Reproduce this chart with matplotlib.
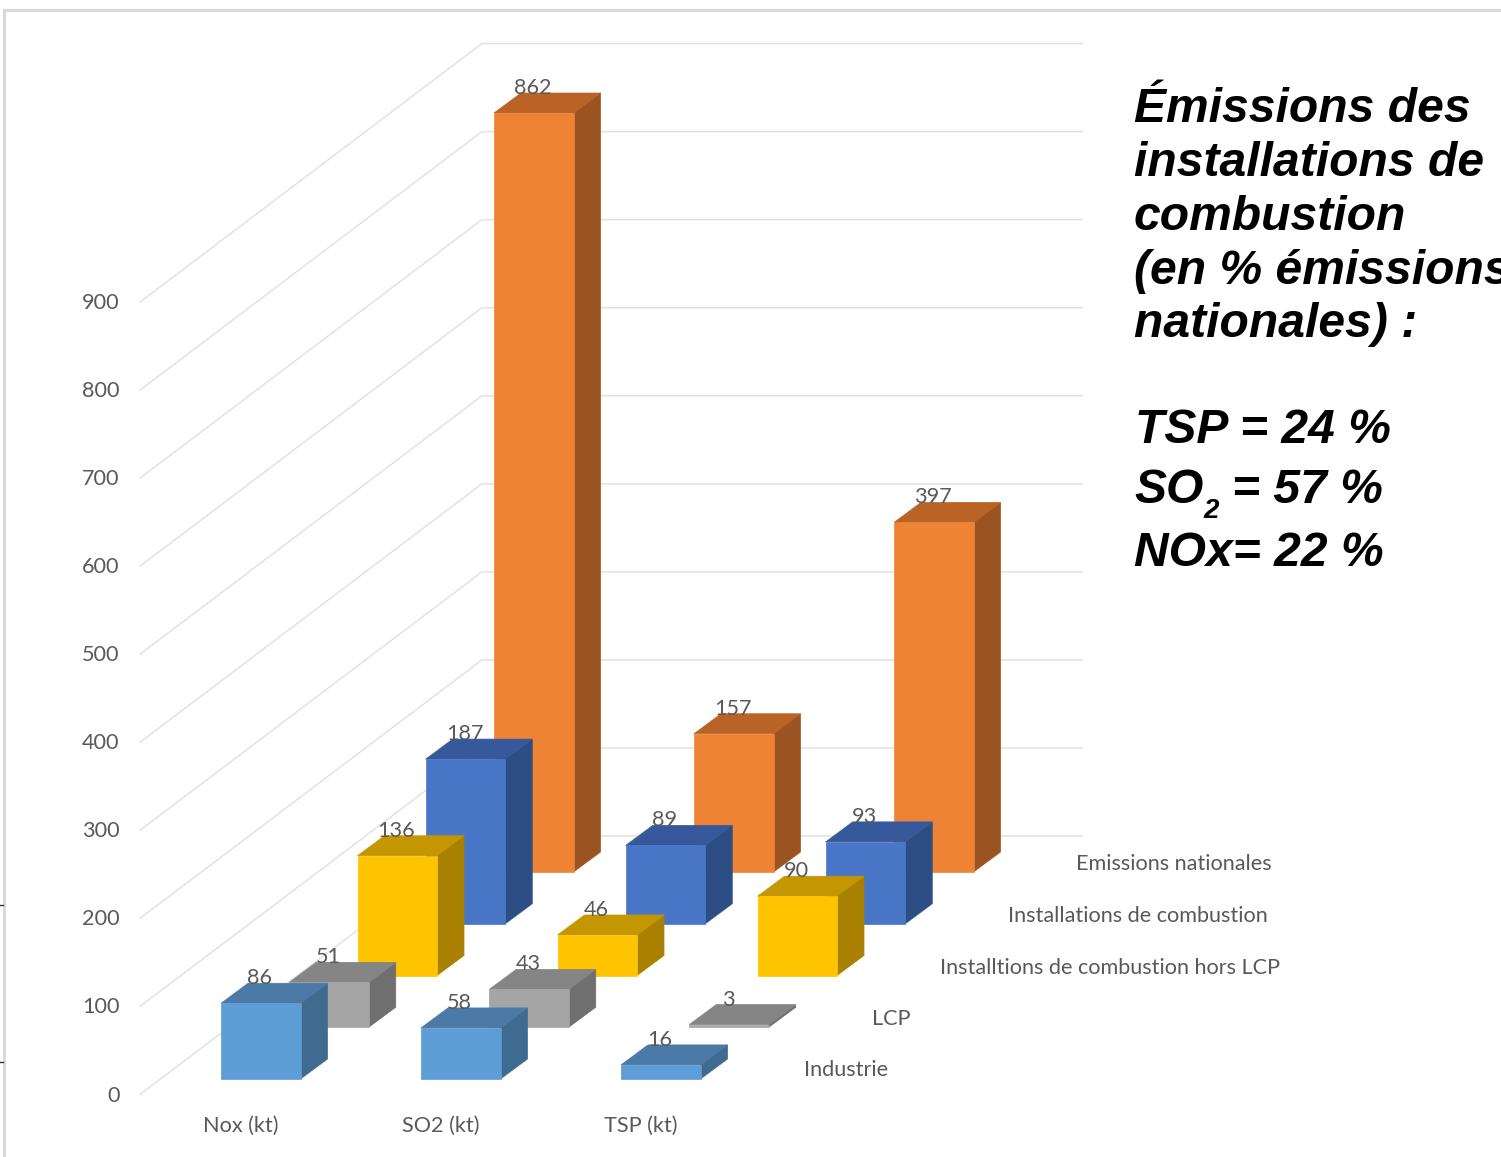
import matplotlib
matplotlib.use("Agg")
import matplotlib.pyplot as plt
from matplotlib.patches import Polygon

categories = ["Nox (kt)", "SO2 (kt)", "TSP (kt)"]
series_names = ["Industrie", "LCP", "Installtions de combustion hors LCP",
                "Installations de combustion", "Emissions nationales"]

industrie = [86, 58, 16]
lcp = [51, 43, 3]
hors_lcp = [136, 46, 90]
combustion = [187, 89, 93]
nationales = [862, 157, 397]

axis_ticks = [0, 100, 200, 300, 400, 500, 600, 700, 800, 900]

# front, side, top
industrie_colors = ("#5f9dd7", "#3f6b91", "#4a7aa5")
lcp_colors = ("#a5a5a5", "#6f6f6f", "#858585")
hors_lcp_colors = ("#ffc400", "#a98000", "#c49600")
combustion_colors = ("#4976c7", "#2d4e85", "#37599b")
nationales_colors = ("#ee8335", "#9b5421", "#ba6327")

WIDTH = 1501
HEIGHT = 1157
PX_PER_UNIT = 0.8805

BAR_WIDTH = 79.5
BAR_DX = 27
BAR_DY = 20
CATEGORY_STEP = 200
SERIES_STEP_X = 68.25
SERIES_STEP_Y = 51.75
FIRST_BAR_X = 221
FIRST_BAR_Y = 1079

GRID_COLOR = "#e2e2e2"
TEXT_COLOR = "#595959"
LABEL_FONT = "Lato"
LABEL_SIZE = 15.6
NOTE_FONT = "Liberation Sans"
NOTE_SIZE = 34.6


def bar_position(category, series):
    x = FIRST_BAR_X + category * CATEGORY_STEP + series * SERIES_STEP_X
    y = FIRST_BAR_Y - series * SERIES_STEP_Y
    return x, y


def draw_bar(ax, category, series, value, colors):
    x, bottom = bar_position(category, series)
    top = bottom - value * PX_PER_UNIT
    right = x + BAR_WIDTH
    front_color, side_color, top_color = colors

    side = [(right, bottom), (right + BAR_DX, bottom - BAR_DY),
            (right + BAR_DX, top - BAR_DY), (right, top)]
    lid = [(x, top), (right, top), (right + BAR_DX, top - BAR_DY), (x + BAR_DX, top - BAR_DY)]
    front = [(x, bottom), (right, bottom), (right, top), (x, top)]

    ax.add_patch(Polygon(side, closed=True, facecolor=side_color, edgecolor=side_color, linewidth=0.5))
    ax.add_patch(Polygon(lid, closed=True, facecolor=top_color, edgecolor=top_color, linewidth=0.5))
    ax.add_patch(Polygon(front, closed=True, facecolor=front_color, edgecolor=front_color, linewidth=0.5))

    ax.text(x + BAR_WIDTH / 2 - 1, top - 25, str(value), color=TEXT_COLOR, fontsize=LABEL_SIZE,
            family=LABEL_FONT, ha="center", va="center", zorder=5)


def draw_grid(ax):
    for tick in axis_ticks:
        offset = tick * PX_PER_UNIT
        ax.plot([140, 482, 1082], [1094.5 - offset, 836 - offset, 836 - offset],
                color=GRID_COLOR, linewidth=1.1, solid_joinstyle="miter", zorder=0)
        ax.text(119.5, 1095.5 - offset, str(tick), color=TEXT_COLOR, fontsize=LABEL_SIZE,
                family=LABEL_FONT, ha="right", va="center")


def draw_frame(ax):
    ax.plot([4, 4, WIDTH], [HEIGHT, 9.5, 9.5], color="#d9d9d9", linewidth=2.2,
            solid_joinstyle="miter", zorder=0)
    for y in [905, 1062]:
        ax.plot([0, 3], [y, y], color="#333333", linewidth=1.0, zorder=0)


def note_text(ax, x, y, text, size=NOTE_SIZE):
    ax.text(x, y, text, fontsize=size, family=NOTE_FONT, weight="bold", style="italic",
            color="black", va="baseline", ha="left")


def draw_note(ax):
    lines = [("Émissions des", 122), ("installations de", 176), ("combustion", 230),
             ("(en % émissions", 284), ("nationales) :", 337)]
    for line, y in lines:
        note_text(ax, 1134, y, line)

    note_text(ax, 1135, 443, "TSP = 24 %")
    note_text(ax, 1134, 503, "SO")
    note_text(ax, 1203, 518, "2", size=20)
    note_text(ax, 1232, 503, "= 57 %")
    note_text(ax, 1134, 566, "NOx= 22 %")


fig = plt.figure(figsize=(WIDTH / 100, HEIGHT / 100), dpi=100, facecolor="white")
ax = fig.add_axes([0, 0, 1, 1])
ax.set_xlim(0, WIDTH)
ax.set_ylim(HEIGHT, 0)
ax.axis("off")

draw_frame(ax)
draw_grid(ax)

all_values = [industrie, lcp, hors_lcp, combustion, nationales]
all_colors = [industrie_colors, lcp_colors, hors_lcp_colors, combustion_colors, nationales_colors]

# back row first so the nearer bars cover it
for series in range(len(all_values) - 1, -1, -1):
    for category in range(len(categories)):
        draw_bar(ax, category, series, all_values[series][category], all_colors[series])

for i, name in enumerate(categories):
    x, y = bar_position(i, 0)
    ax.text(x + 20, 1125.5, name, color=TEXT_COLOR, fontsize=LABEL_SIZE, family=LABEL_FONT,
            ha="center", va="center")

for i, name in enumerate(series_names):
    ax.text(804 + i * 68, 1070.5 - i * 51.5, name, color=TEXT_COLOR, fontsize=LABEL_SIZE, family=LABEL_FONT,
            ha="left", va="center")

draw_note(ax)

fig.savefig("out.png", dpi=100, facecolor="white")
